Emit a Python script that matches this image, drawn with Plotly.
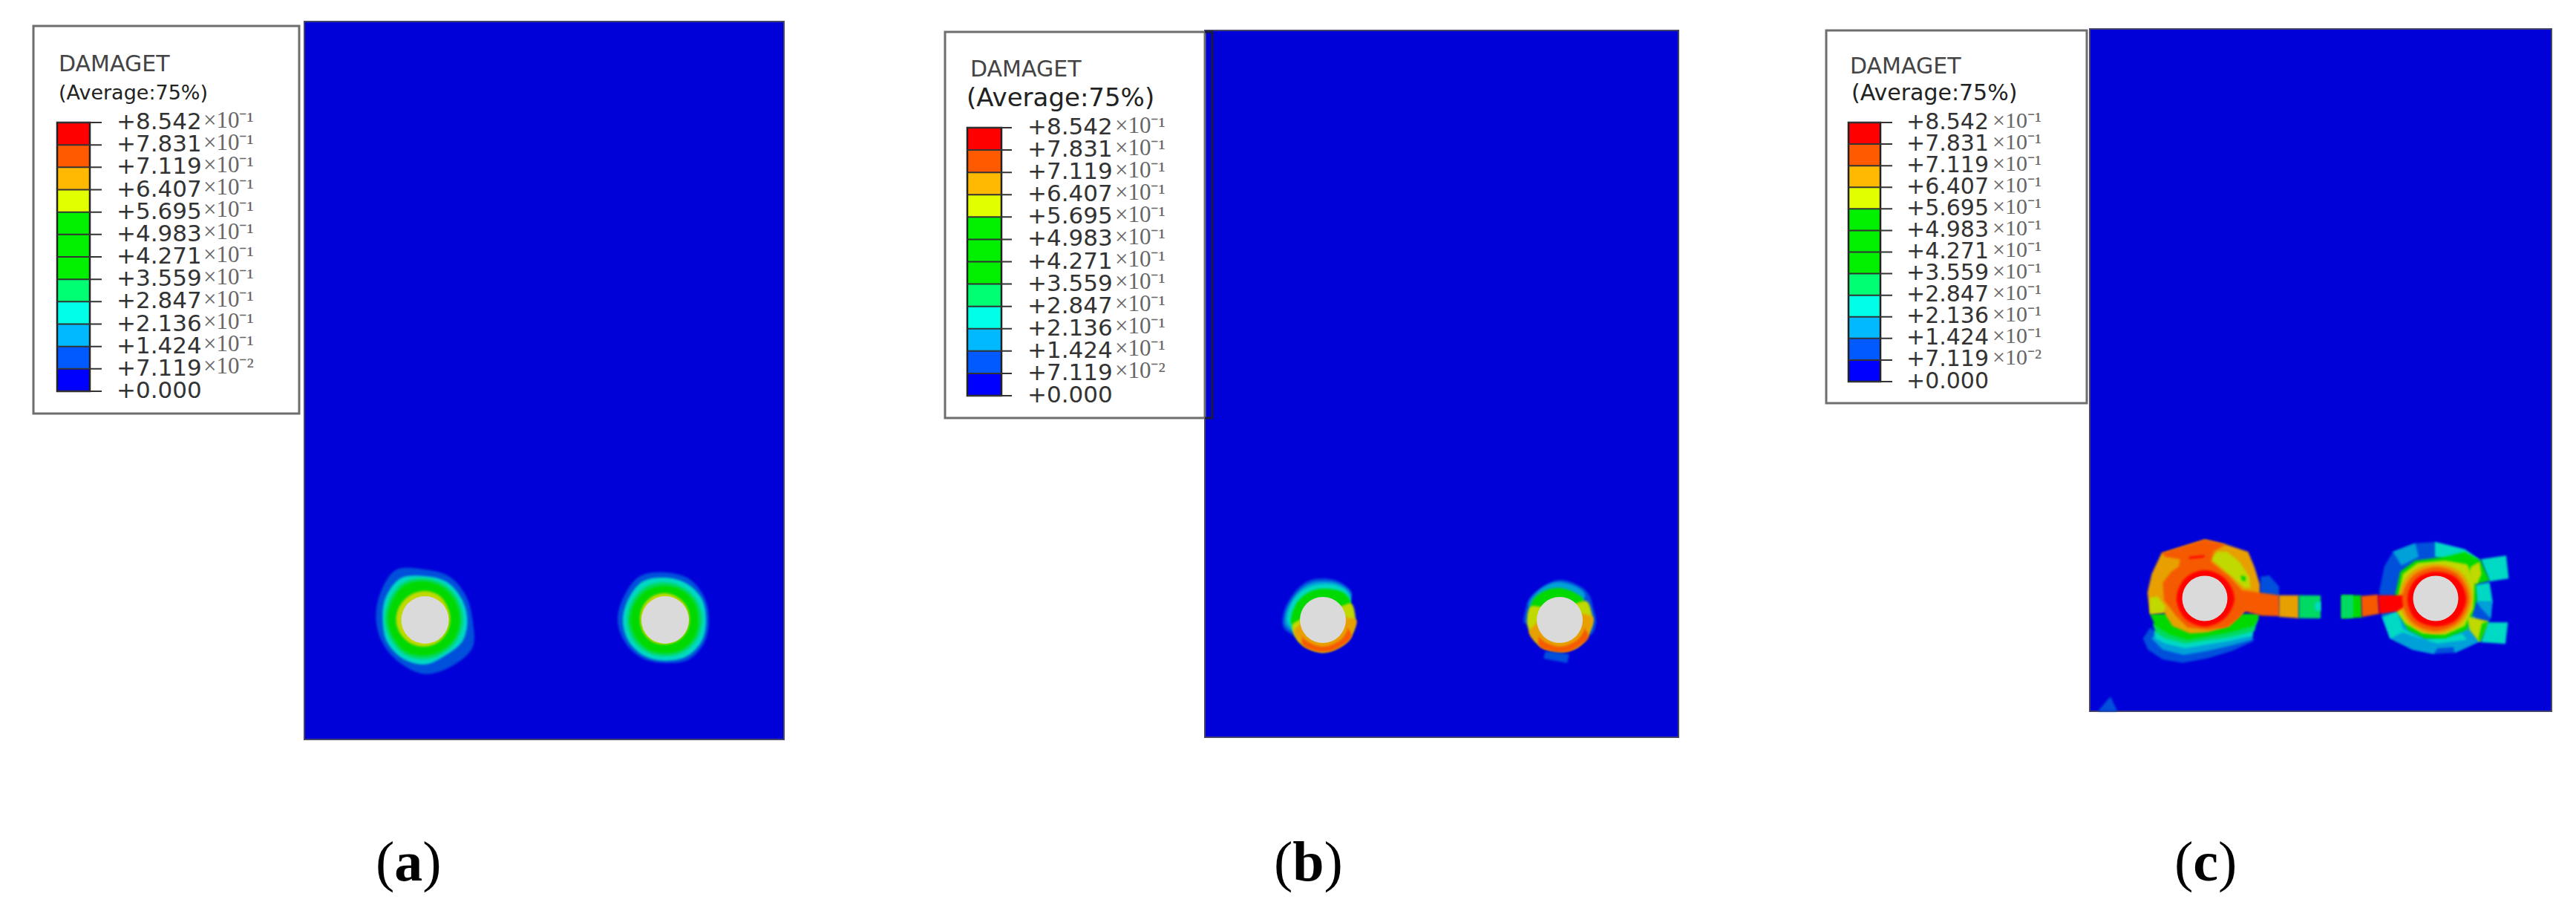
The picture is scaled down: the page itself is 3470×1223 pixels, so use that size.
import math

import plotly.graph_objects as go

WIDTH = 3470
HEIGHT = 1223

# legend levels, top to bottom
LEVELS = ['+8.542', '+7.831', '+7.119', '+6.407', '+5.695', '+4.983', '+4.271',
          '+3.559', '+2.847', '+2.136', '+1.424', '+7.119', '+0.000']
EXPONENTS = ['⁻¹', '⁻¹', '⁻¹', '⁻¹', '⁻¹', '⁻¹', '⁻¹', '⁻¹', '⁻¹', '⁻¹', '⁻¹', '⁻²', '']
LEGEND_COLORS = ['#FF0000', '#FF5A00', '#FFB900', '#E2FF00', '#00F000', '#00F000', '#00F000',
                 '#00FF73', '#00FFE6', '#00B9FF', '#005AFF', '#0000FF']
CAPTIONS = ['a', 'b', 'c']

# x0, x1, y0, y1 of each plate in picture pixels
PLATES = [(410, 1056, 29, 996), (1623, 2261, 41, 993), (2815, 3437, 39, 958)]
# box x0, x1, y0, y1 / bar x0, x1, y0, y1 / tick end / label x / exponent x / label size
LEG_BOX = [(45, 403, 35, 557), (1273, 1623, 43, 563), (2460, 2811, 41, 543)]
LEG_BAR = [(77, 121, 165, 527), (1303, 1349, 172, 533), (2490, 2533, 165, 514)]
LEG_TICK = [137, 1363, 2549]
LEG_LABEL = [155, 1382, 2566]
LEG_EXP = [272, 1500, 2682]
LEG_SIZE = [31, 31, 30]
# title x, title y, subtitle x, subtitle y, subtitle size
LEG_TITLE = [(77, 85, 77, 124, 27), (1305, 92, 1300, 131, 34), (2490, 88, 2492, 124, 30)]
CAPTION_X = [550, 1762, 2971]

PLATE_BLUE = '#0000D9'
HOLE_GREY = '#DADADA'
BLUE1 = '#0050DC'
SKY = '#00A0D9'
CYAN = '#00D9C4'
SPRING = '#00D962'
GREEN = '#00D900'
YELLOW = '#C0D900'
ORANGE = '#E8A000'
REDORANGE = '#F55A00'
RED = '#FF0000'

# hole centres and radii
HOLE_AL = (572.5, 835, 32)
HOLE_AR = (896, 835, 32)
HOLE_BL = (1782, 835, 31)
HOLE_BR = (2101, 835, 31)
HOLE_CL = (2970, 806, 30.5)
HOLE_CR = (3281, 806, 30.5)

# contour radii read around the holes, angle clockwise from east
ANG = [0, 30, 60, 90, 120, 150, 180, 210, 240, 270, 300, 330]
AL_BLUE = [64, 74, 72, 73, 67, 65, 66, 70, 78, 68, 67, 64]
AL_CYAN = [57, 58, 55, 60, 60, 59, 57, 61, 65, 59, 59, 57]
AL_SPRING = [51, 51, 51, 53, 54, 53, 54, 55, 58, 56, 54, 52]
AL_GREEN = [47, 47, 47, 48, 50, 49, 50, 51, 54, 52, 50, 48]
AL_YELLOW = [34, 34, 35, 36, 37, 38, 39, 39, 39, 39, 38, 35]

AR_BLUE = [59, 61, 62, 58, 60, 62, 64, 64, 68, 64, 64, 61]
AR_CYAN = [55, 57, 57, 55, 56, 57, 57, 57, 60, 57, 57, 57]
AR_SPRING = [50, 50, 50, 49, 50, 51, 51, 51, 52, 51, 50, 50]
AR_GREEN = [45, 46, 46, 45, 46, 46, 47, 47, 47, 46, 46, 46]
AR_YELLOW = [33, 33, 33, 33, 34, 34, 34, 35, 36, 36, 35, 34]

# panel (b) bands only cover part of the way round, so (angle, radius) pairs
BL_BLUE = [(90, 28), (166, 53), (188, 54), (221, 53), (248, 56), (270, 56), (292, 56), (315, 54), (324, 47), (340, 30)]
BL_SKY = [(90, 28), (170, 50), (188, 51), (221, 50), (248, 52), (270, 52), (292, 53), (315, 52), (324, 46), (340, 30)]
BL_CYAN = [(90, 28), (172, 46), (188, 48), (221, 48), (248, 48), (270, 48), (292, 50), (310, 50), (325, 45), (340, 30)]
BL_GREEN = [(100, 28), (170, 42), (183, 43), (216, 42), (245, 42), (270, 42), (306, 46), (330, 44), (345, 28)]
BL_YELLOW = [(-30, 44), (-10, 44), (15, 44), (45, 44), (90, 44), (135, 44), (170, 42), (185, 28), (270, 26), (320, 28)]
BL_ORANGE = [(0, 45), (20, 44), (45, 43), (90, 43), (135, 43), (160, 41), (172, 28), (270, 26), (350, 28)]
BL_REDORANGE = [(28, 44), (45, 44), (70, 43), (90, 43), (110, 43), (130, 43), (150, 28), (270, 26), (10, 28)]
BL_INNER = [(15, 35), (45, 36), (90, 36), (135, 36), (155, 34), (180, 28), (270, 26), (350, 28)]

BR_BLUE = [(-15, 48), (5, 49), (25, 47), (40, 30), (170, 30), (175, 48), (195, 48), (215, 50), (240, 50), (270, 54), (300, 53), (320, 52), (340, 48)]
BR_SKY = [(205, 46), (225, 48), (250, 50), (270, 51), (300, 50), (315, 48), (330, 30), (100, 26), (190, 30)]
BR_GREEN = [(195, 40), (216, 45), (245, 44), (270, 43), (300, 42), (320, 42), (335, 28), (100, 26), (185, 28)]
BR_YELLOW = [(-35, 44), (-15, 44), (10, 44), (60, 44), (120, 44), (165, 44), (185, 44), (205, 43), (220, 28), (270, 26), (310, 28)]
BR_ORANGE = [(-5, 45), (15, 44), (45, 44), (90, 44), (135, 44), (160, 44), (175, 28), (270, 26), (340, 28)]
BR_REDORANGE = [(30, 45), (50, 44), (70, 44), (90, 44), (110, 44), (130, 44), (150, 28), (270, 26), (10, 28)]
BR_INNER = [(10, 35), (45, 36), (90, 36), (135, 36), (165, 34), (180, 28), (270, 26), (350, 28)]

BR_SQUARE_X = [2082, 2114, 2111, 2079]
BR_SQUARE_Y = [877, 881, 893, 887]

# panel (c) element patches digitised on 3x crops of the picture
CL_ORIGIN = (2860, 720)
CL_PATCHES = [
    (BLUE1, [555, 590, 630, 630, 555], [170, 165, 210, 250, 250]),
    (BLUE1, [80, 110, 130, 520, 528, 440, 340, 240, 160, 100], [420, 375, 395, 400, 430, 470, 500, 518, 505, 465]),
    (SKY, [115, 135, 525, 520, 430, 340, 245, 160], [420, 395, 395, 425, 450, 470, 487, 465]),
    (CYAN, [125, 530, 520, 430, 340, 250, 170, 130], [390, 375, 410, 430, 445, 460, 440, 420]),
    (SPRING, [120, 545, 530, 430, 250, 170, 130], [360, 340, 390, 415, 440, 420, 395]),
    (GREEN, [108, 550, 545, 525, 430, 340, 260, 190, 130], [320, 320, 345, 370, 395, 410, 425, 405, 370]),
    (ORANGE, [98, 115, 155, 330, 415, 505, 530, 552, 552, 490, 430, 340, 270, 200, 165, 108],
     [235, 160, 75, 20, 40, 70, 130, 200, 250, 310, 370, 395, 400, 370, 315, 320]),
    (YELLOW, [108, 140, 170, 165, 108], [255, 250, 290, 315, 320]),
    (YELLOW, [380, 420, 470, 510, 515, 490, 440, 385, 355], [70, 70, 110, 170, 215, 215, 170, 125, 100]),
    (GREEN, [475, 495, 495, 480], [165, 170, 190, 185]),
    (REDORANGE, [155, 330, 415, 365, 355, 430, 480, 630, 632, 560, 490, 470, 420, 340, 260, 215, 165, 160, 195, 225, 230, 170],
     [75, 20, 40, 70, 110, 170, 225, 245, 330, 328, 310, 335, 375, 385, 375, 330, 265, 195, 150, 130, 100, 90]),
    (RED, [265, 330, 325, 268], [90, 83, 92, 98]),
    (ORANGE, [630, 710, 710, 630], [245, 245, 338, 332]),
    (SPRING, [710, 798, 798, 710], [245, 246, 339, 338]),
    (CYAN, [775, 798, 798, 775], [275, 270, 310, 305]),
]
CL_RED = [(0, 40), (45, 38), (90, 38), (135, 38), (180, 38), (225, 38), (270, 38), (315, 38)]

CR_ORIGIN = (3120, 720)
CR_PATCHES = [
    (BLUE1, [310, 400, 480, 600, 665, 700, 712, 705, 665, 560, 475, 390, 300, 265, 255, 275],
     [70, 35, 30, 60, 105, 190, 260, 340, 430, 478, 482, 465, 420, 330, 230, 130]),
    (SKY, [310, 400, 415, 345], [70, 35, 90, 125]),
    (CYAN, [480, 600, 665, 520, 480], [30, 60, 105, 100, 90]),
    (SKY, [265, 330, 640, 665, 560, 555, 490, 475, 390, 300], [330, 310, 330, 430, 478, 455, 460, 482, 465, 420]),
    (CYAN, [270, 330, 350, 440, 590, 610, 490, 420, 350, 300], [335, 310, 380, 425, 400, 425, 440, 420, 395, 420]),
    (CYAN, [640, 700, 712, 650], [205, 195, 275, 275]),
    (SKY, [650, 712, 705, 660], [270, 270, 340, 290]),
    (CYAN, [665, 768, 778, 700], [100, 85, 178, 190]),
    (CYAN, [690, 775, 765, 665], [355, 355, 442, 435]),
    (GREEN, [320, 340, 400, 520, 600, 665, 700, 645, 650, 630, 610, 520, 440, 370, 330],
     [240, 150, 105, 90, 70, 105, 185, 200, 260, 330, 385, 420, 420, 385, 310]),
    (YELLOW, [335, 350, 410, 520, 610, 640, 635, 600, 520, 430, 360, 325],
     [240, 160, 115, 105, 120, 190, 300, 370, 405, 400, 360, 310]),
    (YELLOW, [625, 660, 668, 650, 625, 620], [130, 110, 160, 200, 190, 150]),
    (YELLOW, [610, 695, 660, 620], [330, 350, 435, 385]),
    (GREEN, [670, 695, 665, 655], [360, 350, 430, 425]),
    (GREEN, [102, 182, 185, 102], [245, 245, 335, 338]),
    (SPRING, [102, 150, 150, 102], [245, 245, 336, 338]),
    (REDORANGE, [182, 250, 255, 185], [248, 242, 320, 333]),
    (RED, [250, 385, 385, 330, 255], [245, 245, 270, 310, 320]),
]
CR_ORANGE = [(0, 49), (45, 48), (90, 48), (135, 49), (180, 50), (225, 48), (270, 46), (315, 49)]
CR_REDORANGE = [(0, 45), (45, 44), (90, 44), (135, 45), (180, 45), (225, 43), (270, 42), (315, 44)]
CR_RED = [(0, 41), (45, 40), (90, 38), (135, 39), (180, 38), (225, 37), (270, 36), (315, 39)]

# small patch in the lower left corner of plate (c)
CORNER_X = [2826, 2843, 2852]
CORNER_Y = [958, 938, 958]


def radial_patch(fig, hole, pairs, color, smooth=True):
    xs = [hole[0] + r * math.cos(math.radians(a)) for a, r in pairs]
    ys = [hole[1] + r * math.sin(math.radians(a)) for a, r in pairs]
    add_patch(fig, xs, ys, color, smooth)


def add_patch(fig, xs, ys, color, smooth=False):
    fig.add_trace(go.Scatter(
        x=list(xs) + [xs[0]],
        y=list(ys) + [ys[0]],
        mode='lines',
        fill='toself',
        fillcolor=color,
        line=dict(width=0, color=color, shape='spline' if smooth else 'linear'),
        hoverinfo='skip',
        showlegend=False
    ))


def crop_patches(fig, origin, patches):
    for color, xs, ys in patches:
        add_patch(fig, [origin[0] + v / 3 for v in xs], [origin[1] + v / 3 for v in ys], color)


def add_hole(fig, hole):
    fig.add_shape(type='circle', x0=hole[0] - hole[2], x1=hole[0] + hole[2],
                  y0=hole[1] - hole[2], y1=hole[1] + hole[2],
                  fillcolor=HOLE_GREY, line=dict(width=0), layer='above')


fig = go.Figure()

# plates go below everything
for x0, x1, y0, y1 in PLATES:
    fig.add_shape(type='rect', x0=x0, x1=x1, y0=y0, y1=y1, fillcolor=PLATE_BLUE,
                  line=dict(color='#44446A', width=2), layer='below')

# panel (a)
for hole, blue, cyan, spring, green, yellow in [
    (HOLE_AL, AL_BLUE, AL_CYAN, AL_SPRING, AL_GREEN, AL_YELLOW),
    (HOLE_AR, AR_BLUE, AR_CYAN, AR_SPRING, AR_GREEN, AR_YELLOW),
]:
    for radii, color in [(blue, BLUE1), (cyan, CYAN), (spring, SPRING), (green, GREEN), (yellow, YELLOW)]:
        radial_patch(fig, hole, list(zip(ANG, radii)), color)
    add_hole(fig, hole)

# panel (b)
for hole, bands in [
    (HOLE_BL, [(BL_BLUE, BLUE1), (BL_SKY, SKY), (BL_CYAN, CYAN), (BL_GREEN, GREEN), (BL_YELLOW, YELLOW),
               (BL_ORANGE, ORANGE), (BL_REDORANGE, REDORANGE), (BL_INNER, ORANGE)]),
    (HOLE_BR, [(BR_BLUE, BLUE1), (BR_SKY, SKY), (BR_GREEN, GREEN), (BR_YELLOW, YELLOW),
               (BR_ORANGE, ORANGE), (BR_REDORANGE, REDORANGE), (BR_INNER, ORANGE)]),
]:
    for pairs, color in bands:
        radial_patch(fig, hole, pairs, color)
    add_hole(fig, hole)
add_patch(fig, BR_SQUARE_X, BR_SQUARE_Y, BLUE1)

# panel (c)
add_patch(fig, CORNER_X, CORNER_Y, BLUE1)
crop_patches(fig, CL_ORIGIN, CL_PATCHES)
radial_patch(fig, HOLE_CL, CL_RED, RED)
add_hole(fig, HOLE_CL)
crop_patches(fig, CR_ORIGIN, CR_PATCHES[:-4])
radial_patch(fig, HOLE_CR, CR_ORANGE, ORANGE)
crop_patches(fig, CR_ORIGIN, CR_PATCHES[-4:])
radial_patch(fig, HOLE_CR, CR_REDORANGE, REDORANGE)
radial_patch(fig, HOLE_CR, CR_RED, RED)
add_hole(fig, HOLE_CR)

# legends
n_cells = len(LEGEND_COLORS)
scale = []
for i, c in enumerate(LEGEND_COLORS):
    scale += [[i / n_cells, c], [(i + 1) / n_cells, c]]

for p in range(3):
    bx0, bx1, by0, by1 = LEG_BOX[p]
    fig.add_shape(type='rect', x0=bx0, x1=bx1, y0=by0, y1=by1, fillcolor='white',
                  line=dict(color='#6E6E6E', width=3), layer='below')

    x0, x1, y0, y1 = LEG_BAR[p]
    step = (y1 - y0) / n_cells
    edges = [y0 + i * step for i in range(n_cells + 1)]
    fig.add_trace(go.Heatmap(
        x=[x0, x1],
        y=edges,
        z=[[i] for i in range(n_cells)],
        zmin=-0.5,
        zmax=n_cells - 0.5,
        colorscale=scale,
        showscale=False,
        hoverinfo='skip'
    ))
    fig.add_shape(type='rect', x0=x0, x1=x1, y0=y0, y1=y1, line=dict(color='#222222', width=2.5))

    for i, level in enumerate(LEVELS):
        fig.add_shape(type='line', x0=x0, x1=LEG_TICK[p], y0=edges[i], y1=edges[i],
                      line=dict(color='#333333', width=2))
        y_text = edges[i] - 2
        fig.add_annotation(x=LEG_LABEL[p], y=y_text, text=level, showarrow=False, xanchor='left',
                           yanchor='middle', font=dict(family='DejaVu Sans', size=LEG_SIZE[p], color='#333333'))
        if EXPONENTS[i]:
            fig.add_annotation(x=LEG_EXP[p], y=y_text - 2, text='×10' + EXPONENTS[i],
                               showarrow=False, xanchor='left', yanchor='middle',
                               font=dict(family='Liberation Serif', size=LEG_SIZE[p], color='#666666'))

    tx, ty, sx, sy, ssize = LEG_TITLE[p]
    fig.add_annotation(x=tx, y=ty, text='DAMAGET', showarrow=False, xanchor='left', yanchor='middle',
                       font=dict(family='DejaVu Sans', size=30, color='#444444'))
    fig.add_annotation(x=sx, y=sy, text='(Average:75%)', showarrow=False, xanchor='left', yanchor='middle',
                       font=dict(family='DejaVu Sans', size=ssize, color='#222222'))

    fig.add_annotation(x=CAPTION_X[p], y=1160, text='(<b>' + CAPTIONS[p] + '</b>)', showarrow=False,
                       xanchor='center', yanchor='middle',
                       font=dict(family='Liberation Serif', size=76, color='black'))

# the legend box of (b) runs a little way onto its plate
fig.add_shape(type='path', path='M 1623 43 L 1633 43 L 1633 563 L 1623 563',
              line=dict(color='#1A1A3A', width=3), layer='above')

fig.update_layout(
    width=WIDTH,
    height=HEIGHT,
    margin=dict(l=0, r=0, t=0, b=0),
    paper_bgcolor='white',
    plot_bgcolor='white',
    showlegend=False,
    xaxis=dict(range=[0, WIDTH], visible=False, fixedrange=True),
    yaxis=dict(range=[HEIGHT, 0], visible=False, fixedrange=True),
)

# zero page margin, and the soft edges the contour renders have in the original
post_script = """
document.body.style.margin = '0';
document.querySelectorAll('.scatterlayer .trace').forEach(function (t) { t.style.filter = 'blur(1.6px)'; });
"""

fig.write_html("out.html", post_script=post_script, config=dict(displayModeBar=False))
